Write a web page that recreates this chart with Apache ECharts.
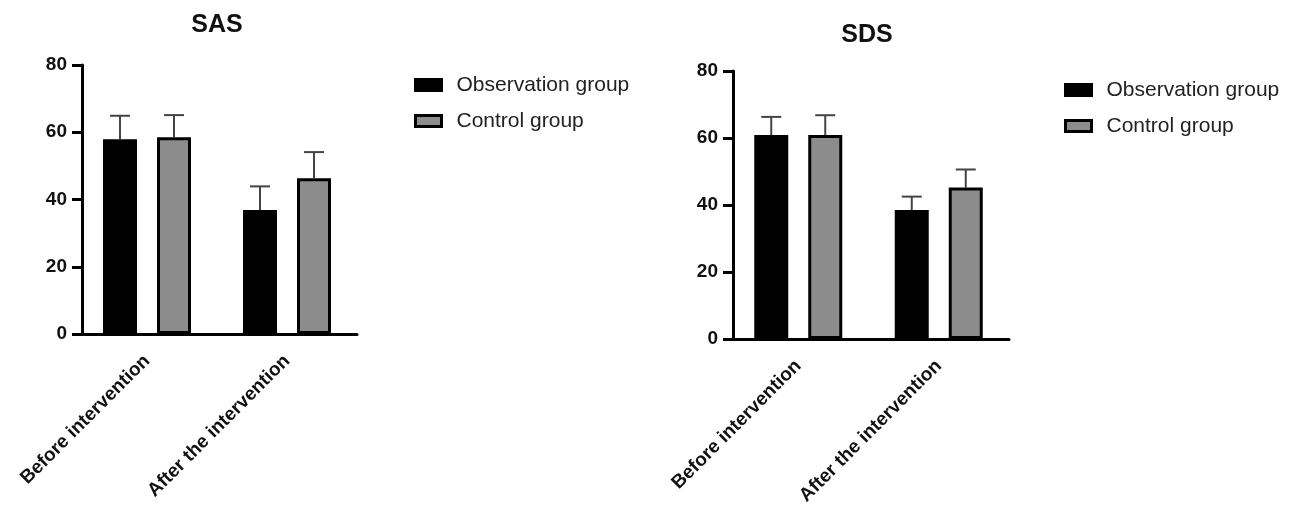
<!DOCTYPE html>
<html>
<head>
<meta charset="utf-8">
<script src="https://cdn.jsdelivr.net/npm/echarts@6/dist/echarts.min.js"></script>
<style>
html,body{margin:0;padding:0;background:#fff;}
#chart{width:1299px;height:510px;}
</style>
</head>
<body>
<div id="chart"></div>
<script>
const categories = ['Before intervention', 'After the intervention'];
const seriesNames = ['Observation group', 'Control group'];
const yTicks = [0, 20, 40, 60, 80];

const sasObsMean = [57.9, 36.9];
const sasObsSD = [7.0, 7.0];
const sasCtrlMean = [58.5, 46.3];
const sasCtrlSD = [6.6, 7.8];

const sdsObsMean = [60.9, 38.5];
const sdsObsSD = [5.4, 4.0];
const sdsCtrlMean = [60.9, 45.2];
const sdsCtrlSD = [5.9, 5.4];

const FONT = '"Liberation Sans", Arial, Helvetica, sans-serif';
const BAR_W = 34;
const BAR_GAP = 20 / 34;
const HALF_SPAN = (BAR_W + BAR_W * BAR_GAP) / 2;

function errSeries(idx, means, sds, sign) {
  return {
    type: 'custom',
    xAxisIndex: idx, yAxisIndex: idx,
    z: 1,
    silent: true,
    encode: { x: 0, y: 1 },
    data: means.map((m, i) => [i, m, sds[i]]),
    renderItem: function (params, api) {
      const x = api.value(0), m = api.value(1), s = api.value(2);
      const p0 = api.coord([x, m]);
      const p1 = api.coord([x, m + s]);
      const cx = p0[0] + sign * HALF_SPAN;
      const style = { stroke: '#444', lineWidth: 2 };
      return {
        type: 'group',
        children: [
          { type: 'line', shape: { x1: cx, y1: p0[1], x2: cx, y2: p1[1] }, style: style },
          { type: 'line', shape: { x1: cx - 10, y1: p1[1], x2: cx + 10, y2: p1[1] }, style: style }
        ]
      };
    }
  };
}

function barSeries(idx, name, means, color) {
  return {
    type: 'bar', name: name,
    xAxisIndex: idx, yAxisIndex: idx,
    barWidth: BAR_W,
    barGap: (BAR_GAP * 100) + '%',
    z: 2,
    itemStyle: { color: color, borderColor: '#000', borderWidth: 3 },
    data: means
  };
}

function xAx(idx) {
  return {
    type: 'category', gridIndex: idx, data: categories,
    axisLine: { lineStyle: { color: '#000', width: 3 } },
    axisTick: { alignWithLabel: true, length: 10, lineStyle: { color: '#000', width: 3 } },
    axisLabel: { rotate: 45, margin: 24, color: '#111', fontFamily: FONT, fontWeight: 'bold', fontSize: 19 }
  };
}
function yAx(idx, off) {
  return {
    type: 'value', gridIndex: idx, min: yTicks[0], max: yTicks[yTicks.length - 1], interval: 20,
    offset: off,
    splitLine: { show: false },
    axisLine: { show: true, lineStyle: { color: '#000', width: 3 } },
    axisTick: { show: true, length: 10, lineStyle: { color: '#000', width: 3 } },
    axisLabel: { margin: 15, color: '#111', fontFamily: FONT, fontWeight: 'bold', fontSize: 19 }
  };
}
function legendFor(left, top) {
  return {
    left: left, top: top, orient: 'vertical',
    data: seriesNames.map(n => ({ name: n })),
    itemWidth: 26, itemHeight: 11, itemGap: 12,
    icon: 'rect',
    itemStyle: { borderColor: '#000', borderWidth: 3 },
    textStyle: { fontFamily: FONT, fontSize: 21, color: '#222', lineHeight: 24, padding: [0, 0, 0, 10] },
    selectedMode: false
  };
}

const chart = echarts.init(document.getElementById('chart'), null, { renderer: 'canvas' });
chart.setOption({
  animation: false,
  backgroundColor: '#fff',
  title: [
    { text: 'SAS', left: 212, top: 8, textAlign: 'center', textStyle: { fontFamily: FONT, fontWeight: 'bold', fontSize: 25, color: '#111' } },
    { text: 'SDS', left: 862, top: 18, textAlign: 'center', textStyle: { fontFamily: FONT, fontWeight: 'bold', fontSize: 25, color: '#111' } }
  ],
  legend: [legendFor(409, 68), legendFor(1059, 73)],
  grid: [
    { left: 77, top: 65, width: 280, height: 269 },
    { left: 728, top: 71, width: 281, height: 268 }
  ],
  xAxis: [xAx(0), xAx(1)],
  yAxis: [yAx(0, -5), yAx(1, -5)],
  series: [
    barSeries(0, seriesNames[0], sasObsMean, '#000'),
    barSeries(0, seriesNames[1], sasCtrlMean, '#8c8c8c'),
    barSeries(1, seriesNames[0], sdsObsMean, '#000'),
    barSeries(1, seriesNames[1], sdsCtrlMean, '#8c8c8c'),
    errSeries(0, sasObsMean, sasObsSD, -1),
    errSeries(0, sasCtrlMean, sasCtrlSD, 1),
    errSeries(1, sdsObsMean, sdsObsSD, -1),
    errSeries(1, sdsCtrlMean, sdsCtrlSD, 1)
  ]
});
</script>
</body>
</html>
